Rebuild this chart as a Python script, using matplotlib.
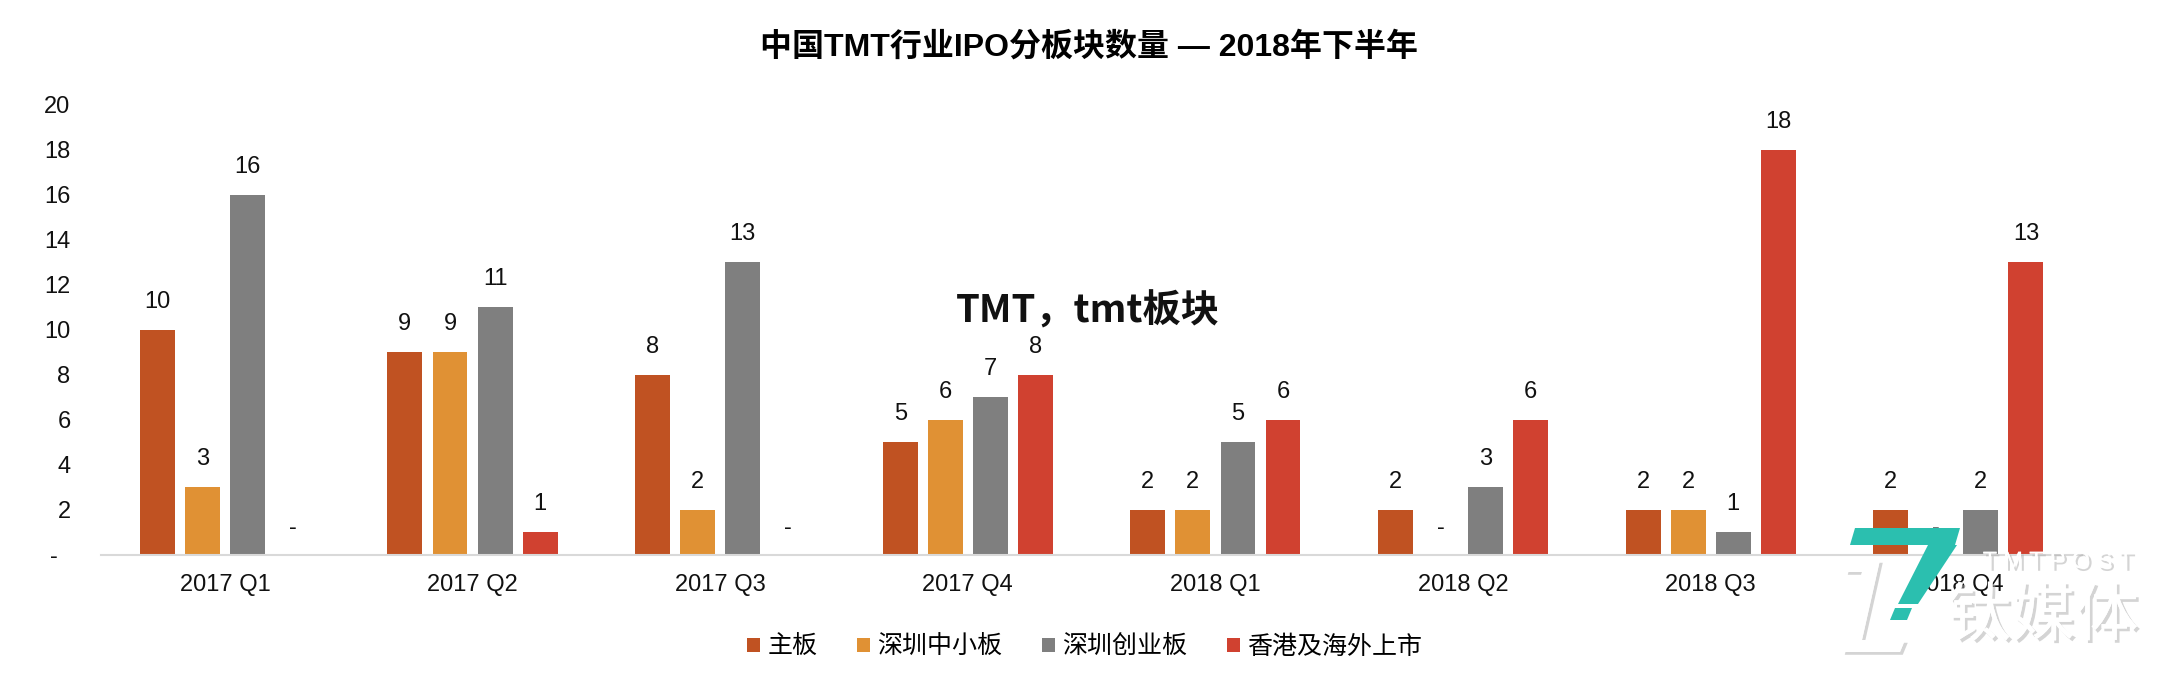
import matplotlib
matplotlib.use("Agg")
import matplotlib.pyplot as plt
import matplotlib.patheffects as pe
from matplotlib.patches import Polygon
import numpy as np

plt.rcParams['font.family'] = ['Liberation Sans', 'Noto Sans CJK SC', 'DejaVu Sans']

categories = ["2017 Q1", "2017 Q2", "2017 Q3", "2017 Q4", "2018 Q1", "2018 Q2", "2018 Q3", "2018 Q4"]
series_names = ["主板", "深圳中小板", "深圳创业板", "香港及海外上市"]
main_board = [10, 9, 8, 5, 2, 2, 2, 2]
sme_board = [3, 9, 2, 6, 2, 0, 2, 0]
chinext = [16, 11, 13, 7, 5, 3, 1, 2]
hk_overseas = [0, 1, 0, 8, 6, 6, 18, 13]
colors = ["#C05222", "#E09134", "#7F7F7F", "#D04130"]
yticks = [0, 2, 4, 6, 8, 10, 12, 14, 16, 18, 20]
ytick_labels = ["-  ", "2", "4", "6", "8", "10", "12", "14", "16", "18", "20"]

W, H = 2178, 686
fig = plt.figure(figsize=(W / 100, H / 100), dpi=100)
ax = fig.add_axes([0.0464, 0.191, 0.9096, 0.656])

x = np.arange(len(categories))
width = 0.141
step = 0.182
all_series = [main_board, sme_board, chinext, hk_overseas]
for i, (vals, name, c) in enumerate(zip(all_series, series_names, colors)):
    xs = x + (i - 1.5) * step
    ax.bar(xs, vals, width=width, color=c, label=name)
    for xi, v in zip(xs, vals):
        lab = str(v) if v != 0 else "-"
        ax.annotate(lab, (xi, v), xytext=(0, 28 if v != 0 else 27), textcoords="offset pixels",
                    ha="center", va="center", fontsize=17, color="#111111")

ax.set_xlim(-0.5, len(categories) - 0.5)
ax.set_ylim(0, 20)
ax.set_yticks(yticks)
ax.set_yticklabels(ytick_labels, fontsize=17)
ax.set_xticks(x)
ax.set_xticklabels(categories, fontsize=17)
ax.tick_params(axis='both', length=0, colors="#111111")
ax.tick_params(axis='y', pad=22)
ax.tick_params(axis='x', pad=14)
for s in ["top", "right", "left"]:
    ax.spines[s].set_visible(False)
ax.spines["bottom"].set_color("#D9D9D9")
ax.spines["bottom"].set_linewidth(1.5)

fig.text(0.5, 0.931, "中国TMT行业IPO分板块数量 — 2018年下半年", ha="center", va="center",
         fontsize=23, fontweight="bold", family=['Liberation Sans', 'Noto Sans CJK SC'])

fig.text(0.4995, 0.546, "TMT，tmt板块", ha="center", va="center", fontsize=27.5,
         fontweight="heavy", family=['Noto Sans CJK SC', 'DejaVu Sans'], color="#111111")

leg = fig.legend(loc="center", bbox_to_anchor=(0.498, 0.057), ncol=4, frameon=False,
                 handlelength=0.5, handleheight=0.5, handletextpad=0.3,
                 columnspacing=1.6, prop={'family': ['Noto Sans CJK SC'], 'size': 18})

# watermark (approximation of the TMTPOST logo)
def fp(px, py):
    return (px / W, 1 - py / H)

shadow = [pe.withSimplePatchShadow(offset=(2, -2), shadow_rgbFace="#AAAAAA", alpha=0.5), pe.Normal()]
# white "Z"-like stroke with shadow
zshape = Polygon([fp(1848, 560), fp(1880, 560), fp(1862, 640), fp(1905, 640), fp(1900, 652),
                  fp(1842, 652), fp(1862, 572), fp(1845, 572)], closed=True,
                 transform=fig.transFigure, facecolor="white", edgecolor="none",
                 path_effects=shadow, zorder=9)
fig.patches.append(zshape)
teal = "#2BBFAF"
for pts in ([(1855, 528), (1960, 528), (1955, 545), (1850, 545)],
            [(1928, 545), (1957, 545), (1918, 604), (1898, 604)],
            [(1895, 608), (1912, 608), (1907, 620), (1890, 620)]):
    fig.patches.append(Polygon([fp(*p) for p in pts], closed=True, transform=fig.transFigure,
                               facecolor=teal, edgecolor="none", zorder=10))
fig.text(fp(2058, 562)[0], fp(2058, 562)[1], "T M T P O S T", ha="center", va="center",
         fontsize=17, color="white", path_effects=shadow, zorder=10)
fig.text(fp(2043, 617)[0], fp(2043, 617)[1], "钛媒体", ha="center", va="center", fontsize=46,
         color="white", family=['Noto Sans CJK SC'], path_effects=shadow, zorder=10)

fig.savefig("out.png", dpi=100)
